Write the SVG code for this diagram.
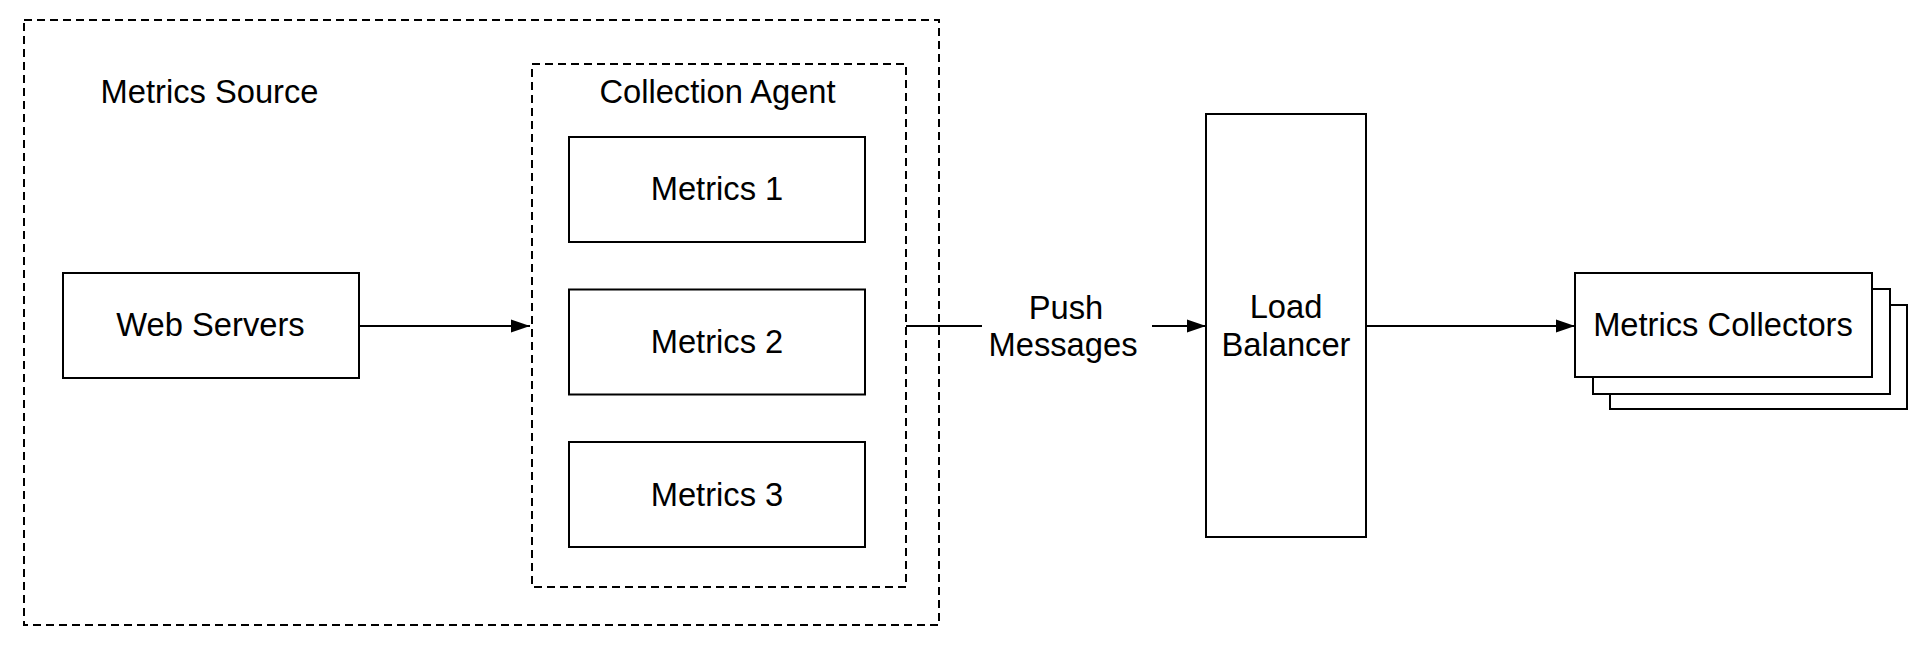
<svg xmlns="http://www.w3.org/2000/svg" width="1920" height="648" viewBox="0 0 1920 648">
  <style>
    .box { fill: #ffffff; stroke: #000000; stroke-width: 2; }
    .group { fill: none; stroke: #000000; stroke-width: 2; stroke-dasharray: 8 5; }
    .edge { fill: none; stroke: #000000; stroke-width: 2; }
    text { font-family: "Liberation Sans", Arial, Helvetica, sans-serif; font-size: 32.7px; fill: #000000; text-anchor: middle; }
  </style>
  <defs>
    <marker id="arrow" markerUnits="userSpaceOnUse" markerWidth="20" markerHeight="14" refX="19" refY="7" orient="auto">
      <path d="M0,0.5 L19,7 L0,13.5 z" fill="#000000"/>
    </marker>
  </defs>
  <rect width="1920" height="648" fill="#ffffff"/>

  <g id="metrics-source">
    <rect class="group" x="24" y="20" width="915" height="605"/>
    <text x="209.5" y="103">Metrics Source</text>
  </g>

  <g id="collection-agent">
    <rect class="group" x="532" y="64" width="374" height="523"/>
    <text x="717.5" y="103">Collection Agent</text>
  </g>

  <g id="web-servers">
    <rect class="box" x="63" y="273" width="296" height="105"/>
    <text x="210.5" y="336">Web Servers</text>
  </g>

  <g id="metrics-1">
    <rect class="box" x="569" y="137" width="296" height="105"/>
    <text x="717" y="200">Metrics 1</text>
  </g>

  <g id="metrics-2">
    <rect class="box" x="569" y="289.5" width="296" height="105"/>
    <text x="717" y="353">Metrics 2</text>
  </g>

  <g id="metrics-3">
    <rect class="box" x="569" y="442" width="296" height="105"/>
    <text x="717" y="506">Metrics 3</text>
  </g>

  <g id="load-balancer">
    <rect class="box" x="1206" y="114" width="160" height="423"/>
    <text x="1286" y="318">Load</text>
    <text x="1286" y="356">Balancer</text>
  </g>

  <g id="metrics-collectors">
    <rect class="box" x="1610" y="305" width="297" height="104"/>
    <rect class="box" x="1593" y="289" width="297" height="105"/>
    <rect class="box" x="1575" y="273" width="297" height="104"/>
    <text x="1723" y="336">Metrics Collectors</text>
  </g>

  <g id="connectors">
    <line class="edge" x1="359" y1="326" x2="530" y2="326" marker-end="url(#arrow)"/>
    <line class="edge" x1="906" y1="326" x2="982" y2="326"/>
    <line class="edge" x1="1152" y1="326" x2="1206" y2="326" marker-end="url(#arrow)"/>
    <line class="edge" x1="1366" y1="326" x2="1575" y2="326" marker-end="url(#arrow)"/>
    <g id="push-messages-label">
      <text x="1066" y="319">Push</text>
      <text x="1063" y="356">Messages</text>
    </g>
  </g>
</svg>
